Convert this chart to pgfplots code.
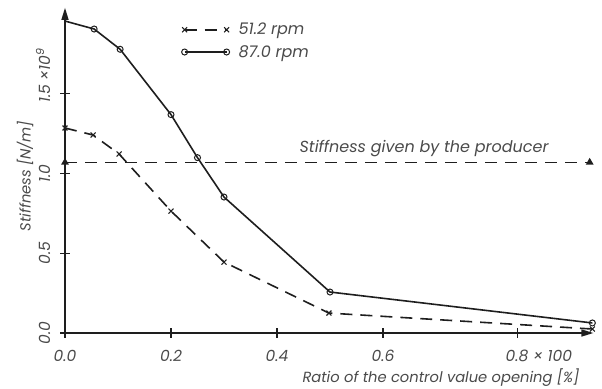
\documentclass[border=0pt]{standalone}
\usepackage{pgfplots}
\pgfplotsset{compat=1.18}
\usetikzlibrary{arrows.meta}
\usepackage{fontspec}
\setmainfont{Poppins}
\definecolor{txt}{HTML}{4A4A4A}
\definecolor{ln}{HTML}{1E1E1E}
\newcommand\f{\fontsize{14.7}{17}\selectfont\itshape}
\newcommand\fl{\fontsize{16}{18}\selectfont\itshape}
\newcommand\ft{\fontsize{15.5}{18}\selectfont\itshape}
\begin{document}
\begin{tikzpicture}
\begin{axis}[
 x=530pt, y=159.4pt,
 xmin=0, xmax=0.997, ymin=0, ymax=2.04,
 axis lines=left,
 axis line style={line width=1.4pt, color=ln, -{Triangle[length=12pt,width=7pt]}},
 clip=false,
 tick align=center, major tick length=9pt, tick style={line width=1.1pt, color=ln},
 xtick={0,0.2,0.4,0.6,0.853},
 xticklabels={0.0,0.2,0.4,0.6,0.8\rlap{ × 100}},
 ytick={0,0.5,1,1.5},
 yticklabels={0.0,0.5,1.0,1.5\rlap{ ×10\raisebox{0.8ex}{\fontsize{11}{12}\selectfont 9}}},
 xticklabel style={font=\ft, text=txt},
 yticklabel style={font=\ft, text=txt, xshift=-6pt, rotate=90, anchor=south},
 xticklabel shift=9pt,
 xlabel={Ratio of the control value opening [\%]},
 xlabel style={at={(axis cs:0.977,-0.28)}, anchor=east, font=\f, text=txt},
 ylabel={Stiffness [N/m]},
 ylabel style={at={(axis cs:-0.0755,0.985)}, anchor=center, font=\f, text=txt},
 legend style={at={(axis cs:0.214,1.97)}, anchor=north west, draw=none, fill=none, font=\fl, text=txt, row sep=5pt,
   /tikz/every odd column/.append style={column sep=7pt}},
 legend cell align=left,
 legend image code/.code={\draw[#1, mark indices={1,2}] plot coordinates {(0pt,0pt) (42pt,0pt)};},
]
\addplot[ln, line width=1.6pt, dash pattern=on 12pt off 8pt, mark=x, mark size=3.5pt, mark options={solid, line width=1.1pt}]
 coordinates {(0,1.286)(0.053,1.242)(0.102,1.123)(0.2,0.765)(0.3,0.445)(0.498,0.125)(0.995,0.025)};
\addlegendentry{51.2 rpm}
\addplot[ln, line width=1.6pt, mark=o, mark size=3pt, mark indices={2,3,4,5,6,7,8}, mark options={solid, fill=white, line width=1pt}]
 coordinates {(0,1.957)(0.055,1.907)(0.104,1.78)(0.2,1.37)(0.25,1.10)(0.3,0.853)(0.5,0.257)(0.995,0.063)};
\addlegendentry{87.0 rpm}
\addplot[ln, line width=1.6pt, dash pattern=on 12pt off 8pt, mark=triangle*, mark size=3pt, mark options={solid}, forget plot]
 coordinates {(0,1.07)(0.99,1.07)};
\node[anchor=east, font=\fl, text=txt] at (axis cs:0.919,1.16) {Stiffness given by the producer};
\end{axis}
\pgfresetboundingbox
\path[use as bounding box] (-65pt,-55pt) rectangle (537pt,333pt);
\end{tikzpicture}
\end{document}
